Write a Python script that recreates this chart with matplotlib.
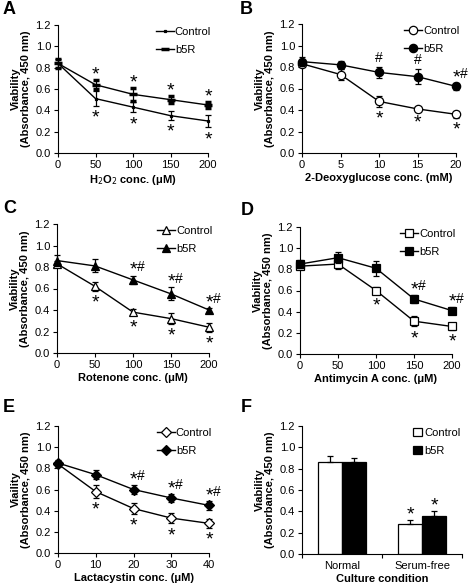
import numpy as np
import matplotlib
matplotlib.use("Agg")
import matplotlib.pyplot as plt
from matplotlib.ticker import FormatStrFormatter, FixedLocator
from matplotlib.lines import Line2D

plt.rcParams['font.family'] = ['Liberation Sans', 'DejaVu Sans']
plt.rcParams['font.size'] = 8

# --- data ---
x_h2o2 = [0, 50, 100, 150, 200]
ctl_h2o2 = [0.84, 0.51, 0.43, 0.35, 0.30]
ctl_h2o2_err = [0.04, 0.07, 0.05, 0.04, 0.06]
b5r_h2o2 = [0.84, 0.64, 0.55, 0.50, 0.45]
b5r_h2o2_err = [0.04, 0.04, 0.06, 0.03, 0.03]
up_h2o2 = ['', '*', '*', '*', '*']
dn_h2o2 = ['', '*', '*', '*', '*']

x_dg = [0, 5, 10, 15, 20]
ctl_dg = [0.83, 0.73, 0.48, 0.41, 0.36]
ctl_dg_err = [0.03, 0.05, 0.05, 0.02, 0.03]
b5r_dg = [0.85, 0.82, 0.75, 0.71, 0.62]
b5r_dg_err = [0.04, 0.04, 0.05, 0.07, 0.03]
up_dg = ['', '', '#', '#', '*#']
dn_dg = ['', '', '*', '*', '*']

x_rot = [0, 50, 100, 150, 200]
ctl_rot = [0.83, 0.62, 0.38, 0.32, 0.24]
ctl_rot_err = [0.03, 0.04, 0.03, 0.05, 0.04]
b5r_rot = [0.86, 0.81, 0.68, 0.55, 0.40]
b5r_rot_err = [0.05, 0.06, 0.04, 0.06, 0.02]
up_rot = ['', '', '*#', '*#', '*#']
dn_rot = ['', '*', '*', '*', '*']

x_ant = [0, 50, 100, 150, 200]
ctl_ant = [0.83, 0.85, 0.60, 0.31, 0.26]
ctl_ant_err = [0.03, 0.05, 0.03, 0.05, 0.03]
b5r_ant = [0.85, 0.91, 0.81, 0.52, 0.41]
b5r_ant_err = [0.04, 0.05, 0.07, 0.04, 0.03]
up_ant = ['', '', '', '*#', '*#']
dn_ant = ['', '', '*', '*', '*']

x_lac = [0, 10, 20, 30, 40]
ctl_lac = [0.84, 0.58, 0.42, 0.33, 0.28]
ctl_lac_err = [0.03, 0.06, 0.05, 0.05, 0.04]
b5r_lac = [0.85, 0.74, 0.60, 0.52, 0.45]
b5r_lac_err = [0.03, 0.04, 0.04, 0.04, 0.04]
up_lac = ['', '', '*#', '*#', '*#']
dn_lac = ['', '*', '*', '*', '*']

conditions = ['Normal', 'Serum-free']
ctl_bar = [0.86, 0.28]
ctl_bar_err = [0.06, 0.04]
b5r_bar = [0.86, 0.36]
b5r_bar_err = [0.04, 0.04]
bar_marks = ['', '*']

W, H = 468, 585
fig = plt.figure(figsize=(W / 100, H / 100), dpi=100)
STAR_FS = 14   # the asterisks are drawn larger than the hashes
HASH_FS = 10


def sig(ax, x, y, s, above=True):
    # put significance marks just above (or below) an error bar end
    if not s:
        return
    centre = 5 if above else -7.5   # glyph centre offset in points
    star_dy = centre - 0.32 * STAR_FS
    hash_dy = centre - 0.15 * HASH_FS
    if s == '*':
        ax.annotate('*', (x, y), xytext=(0, star_dy), textcoords='offset points',
                    ha='center', va='baseline', fontsize=STAR_FS, annotation_clip=False)
    elif s == '#':
        ax.annotate('#', (x, y), xytext=(0, hash_dy), textcoords='offset points',
                    ha='center', va='baseline', fontsize=HASH_FS, annotation_clip=False)
    else:
        ax.annotate('*', (x, y), xytext=(0, star_dy), textcoords='offset points',
                    ha='center', va='baseline', fontsize=STAR_FS, annotation_clip=False)
        ax.annotate('#', (x, y), xytext=(5.5, hash_dy), textcoords='offset points',
                    ha='center', va='baseline', fontsize=HASH_FS, annotation_clip=False)


def add_ax(left, right, top, bottom):
    return fig.add_axes([left / W, 1 - bottom / H, (right - left) / W, (bottom - top) / H])


def style(ax, xlabel, ylabel='Viability\n(Absorbance, 450 nm)'):
    ax.spines['top'].set_visible(False)
    ax.spines['right'].set_visible(False)
    ax.set_ylim(0, 1.2)
    ax.set_yticks(np.arange(0, 1.21, 0.2))
    ax.yaxis.set_major_formatter(FormatStrFormatter('%.1f'))
    ax.tick_params(direction='out', length=3, width=0.8, labelsize=8, pad=2)
    ax.set_xlabel(xlabel, fontweight='bold', fontsize=8, labelpad=2)
    ax.set_ylabel(ylabel, fontweight='bold', fontsize=8, labelpad=3, linespacing=1.1)


def line_panel(ax, x, ctl, ctl_err, b5r, b5r_err, up, dn, mk_c, mk_b, xlabel,
               ylabel='Viability\n(Absorbance, 450 nm)'):
    kw = dict(color='black', lw=1, capsize=2, elinewidth=0.9, capthick=0.9, clip_on=False)
    ax.errorbar(x, ctl, yerr=ctl_err, zorder=3, **kw, **mk_c)
    ax.errorbar(x, b5r, yerr=b5r_err, zorder=4, **kw, **mk_b)
    for xi, yi, ei, s in zip(x, b5r, b5r_err, up):
        sig(ax, xi, yi + ei, s, above=True)
    for xi, yi, ei, s in zip(x, ctl, ctl_err, dn):
        sig(ax, xi, yi - ei, s, above=False)
    ax.set_xlim(x[0], x[-1])
    ax.set_xticks(x)
    style(ax, xlabel, ylabel)
    handles = [Line2D([], [], color='black', lw=1, **mk_c),
               Line2D([], [], color='black', lw=1, **mk_b)]
    ax.legend(handles, ['Control', 'b5R'], loc='upper right', frameon=False, fontsize=8,
              handlelength=1.6, handletextpad=0.1, borderaxespad=0.0, labelspacing=0.7,
              bbox_to_anchor=(1.05, 1.02))


def mk(marker, face, size=5):
    return dict(marker=marker, markersize=size, markerfacecolor=face,
                markeredgecolor='black', markeredgewidth=0.9)


axA = add_ax(58, 208, 25, 153)
line_panel(axA, x_h2o2, ctl_h2o2, ctl_h2o2_err, b5r_h2o2, b5r_h2o2_err, up_h2o2, dn_h2o2,
           mk('s', 'black', 2), dict(marker='_', markersize=6, markeredgewidth=2.5,
                                     markeredgecolor='black'),
           'H$_2$O$_2$ conc. (\u03bcM)')
axB = add_ax(302, 456, 24, 153)
line_panel(axB, x_dg, ctl_dg, ctl_dg_err, b5r_dg, b5r_dg_err, up_dg, dn_dg,
           mk('o', 'white', 6), mk('o', 'black', 6),
           '2-Deoxyglucose conc. (mM)')
axC = add_ax(57, 209, 224, 353)
line_panel(axC, x_rot, ctl_rot, ctl_rot_err, b5r_rot, b5r_rot_err, up_rot, dn_rot,
           mk('^', 'white', 6), mk('^', 'black', 6),
           'Rotenone conc. (\u03bcM)')
axD = add_ax(300, 452, 227, 354)
line_panel(axD, x_ant, ctl_ant, ctl_ant_err, b5r_ant, b5r_ant_err, up_ant, dn_ant,
           mk('s', 'white', 6), mk('s', 'black', 6),
           'Antimycin A conc. (\u03bcM)')
axE = add_ax(58, 209, 426, 553)
line_panel(axE, x_lac, ctl_lac, ctl_lac_err, b5r_lac, b5r_lac_err, up_lac, dn_lac,
           mk('D', 'white', 5), mk('D', 'black', 5),
           'Lactacystin conc. (\u03bcM)', ylabel='Viaility\n(Absorbance, 450 nm)')

# panel F: bars
axF = add_ax(302, 462, 426, 554)
pos = np.arange(len(conditions)) + 0.5
bw = 0.3
axF.bar(pos - bw / 2, ctl_bar, bw, color='white', edgecolor='black', lw=0.9, label='Control')
axF.bar(pos + bw / 2, b5r_bar, bw, color='black', edgecolor='black', lw=0.9, label='b5R')
axF.errorbar(pos - bw / 2, ctl_bar, yerr=[[0] * len(ctl_bar), ctl_bar_err], fmt='none',
             ecolor='black', elinewidth=0.9, capsize=2, capthick=0.9)
axF.errorbar(pos + bw / 2, b5r_bar, yerr=[[0] * len(b5r_bar), b5r_bar_err], fmt='none',
             ecolor='black', elinewidth=0.9, capsize=2, capthick=0.9)
for p, c, ce, b, be, s in zip(pos, ctl_bar, ctl_bar_err, b5r_bar, b5r_bar_err, bar_marks):
    sig(axF, p - bw / 2, c + ce, s)
    sig(axF, p + bw / 2, b + be, s)
axF.set_xlim(0, len(conditions))
style(axF, 'Culture condition')
axF.set_xticks(pos)
axF.set_xticklabels(conditions)
axF.tick_params(axis='x', which='major', length=0, pad=5)
axF.xaxis.set_minor_locator(FixedLocator(np.arange(len(conditions) + 1)))
axF.tick_params(axis='x', which='minor', direction='out', length=3, width=0.8)
axF.legend(loc='upper right', frameon=False, fontsize=8, handlelength=0.8, handleheight=0.8,
           handletextpad=0.2, borderaxespad=0.0, labelspacing=0.7,
           bbox_to_anchor=(1.02, 1.02))

# panel letters
for lab, px, py in [('A', 3, 10), ('B', 240, 10), ('C', 3, 208), ('D', 241, 210),
                    ('E', 3, 407), ('F', 241, 408)]:
    fig.text(px / W, 1 - py / H, lab, fontsize=13, fontweight='bold', va='center', ha='left')

fig.savefig('out.png', dpi=100)
